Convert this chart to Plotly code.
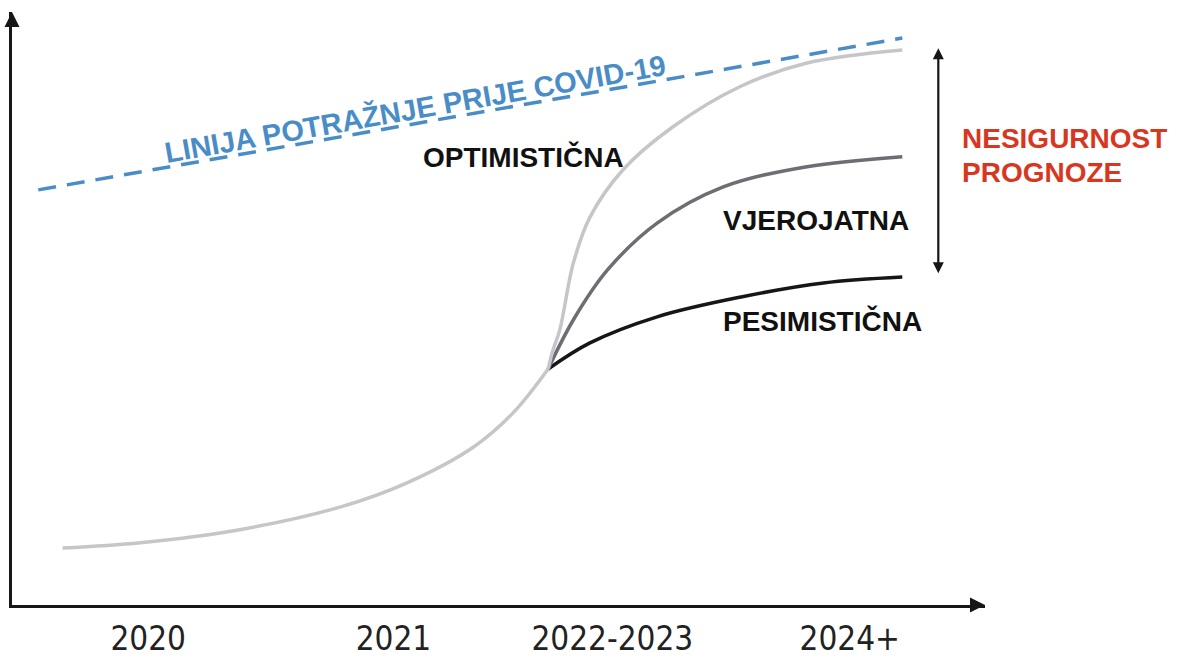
import plotly.graph_objects as go

# --- data (abstract time index 0-100, demand index 0-100) ---
base_x = [5.2, 13.2, 23.4, 33.7, 40.6, 47.4, 51.5, 55.1]
base_y = [9.6, 10.5, 12.7, 16.5, 20.6, 26.6, 32.4, 39.8]

opt_x = [55.1, 55.6, 56.3, 57.7, 59.4, 62.8, 67.9, 74.8, 81.7, 91.5]
opt_y = [39.8, 43.0, 46.4, 57.7, 65.4, 73.4, 80.6, 87.4, 91.4, 93.6]

lik_x = [55.1, 57.7, 61.2, 66.3, 73.1, 81.7, 91.5]
lik_y = [39.8, 48.1, 56.5, 64.4, 70.5, 73.9, 75.6]

pes_x = [55.1, 59.4, 66.3, 74.8, 83.4, 91.5]
pes_y = [39.8, 44.2, 48.6, 51.9, 54.3, 55.3]

pre_x = [2.7, 91.5]
pre_y = [70.0, 95.6]

uncert_x = 95.2
uncert_top = 93.9
uncert_bottom = 55.7

tick_vals = [14.0, 39.2, 61.7, 86.1]
tick_text = ["2020", "2021", "2022-2023", "2024+"]

LIGHT = "#c6c6ca"
MID = "#6d6d74"
DARK = "#161618"
BLUE = "#4a8dc6"
RED = "#d8371f"

fig = go.Figure()
fig.add_trace(go.Scatter(x=pre_x, y=pre_y, mode="lines",
                         line=dict(color=BLUE, width=3.5, dash="18px,11px"),
                         hoverinfo="skip"))
fig.add_trace(go.Scatter(x=pes_x, y=pes_y, mode="lines", line_shape="spline",
                         line=dict(color=DARK, width=3.5), name="Pesimistična"))
fig.add_trace(go.Scatter(x=lik_x, y=lik_y, mode="lines", line_shape="spline",
                         line=dict(color=MID, width=3.5), name="Vjerojatna"))
fig.add_trace(go.Scatter(x=opt_x, y=opt_y, mode="lines", line_shape="spline",
                         line=dict(color=LIGHT, width=3.5), name="Optimistična"))
fig.add_trace(go.Scatter(x=base_x, y=base_y, mode="lines", line_shape="spline",
                         line=dict(color=LIGHT, width=3.5), name="Povijest"))

bold = dict(family="Liberation Sans, Arial, sans-serif", size=28, color="#111111")

annotations = [
    dict(x=41.4, y=83.8, text="<b>LINIJA POTRAŽNJE PRIJE COVID-19</b>", textangle=-10,
         showarrow=False, font=dict(bold, color=BLUE, size=29)),
    dict(x=52.6, y=75.6, text="<b>OPTIMISTIČNA</b>", showarrow=False, font=bold),
    dict(x=82.6, y=64.8, text="<b>VJEROJATNA</b>", showarrow=False, font=bold),
    dict(x=83.3, y=47.9, text="<b>PESIMISTIČNA</b>", showarrow=False, font=bold),
    dict(x=97.4, y=78.6, text="<b>NESIGURNOST</b>", xanchor="left", showarrow=False,
         font=dict(bold, color=RED)),
    dict(x=97.4, y=73.0, text="<b>PROGNOZE</b>", xanchor="left", showarrow=False,
         font=dict(bold, color=RED)),
    # uncertainty double arrow
    dict(x=uncert_x, y=uncert_top, ax=uncert_x, ay=uncert_bottom, axref="x", ayref="y",
         text="", showarrow=True, arrowhead=2, arrowside="end+start", arrowsize=1,
         arrowwidth=2.2, arrowcolor=DARK),
    # axis arrowheads
    dict(x=0, y=100, ax=0, ay=14, text="", showarrow=True, arrowhead=2, arrowsize=1,
         arrowwidth=3, arrowcolor=DARK),
    dict(x=100, y=0, ax=-14, ay=0, text="", showarrow=True, arrowhead=2, arrowsize=1,
         arrowwidth=3, arrowcolor=DARK),
]

fig.update_layout(
    width=1184, height=659,
    margin=dict(l=12, r=199, t=12, b=54, pad=0),
    paper_bgcolor="white", plot_bgcolor="white",
    showlegend=False,
    annotations=annotations,
    xaxis=dict(range=[0, 100], showgrid=False, zeroline=False, showline=True,
               linecolor=DARK, linewidth=3, ticks="", tickvals=tick_vals,
               ticktext=tick_text, ticklabelstandoff=2, automargin=False,
               tickfont=dict(family="DejaVu Sans Condensed, DejaVu Sans, sans-serif",
                             size=33, color="#222222")),
    yaxis=dict(range=[0, 100], showgrid=False, zeroline=False, showline=True,
               linecolor=DARK, linewidth=3, ticks="", showticklabels=False,
               automargin=False),
)

fig.write_html("out.html", config={"displayModeBar": False},
               post_script="document.body.style.margin='0';document.body.style.overflow='hidden';")
